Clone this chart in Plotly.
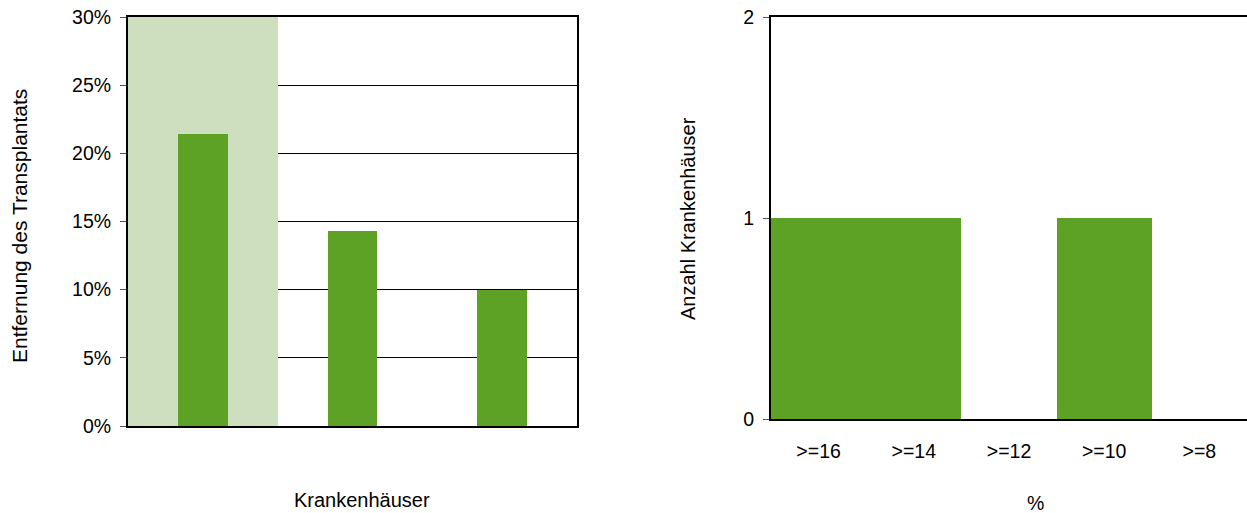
import plotly.graph_objects as go

# Left chart data
hospitals = ["A", "B", "C"]
removal_share = [0.214, 0.143, 0.100]
highlight_category = ["A"]
y_max_left = 0.30

# Right chart data
pct_bins = [">=16", ">=14", ">=12", ">=10", ">=8"]
hospital_counts = [1, 1, 0, 1, 0]

W, H = 1247, 513
GREEN = "#5da225"
BAND = "#cedfbf"
FONT = "Liberation Sans, Arial, sans-serif"
FS = 19.5

fig = go.Figure()
# highlight band behind the first hospital
fig.add_trace(go.Bar(x=highlight_category, y=[y_max_left], marker_color=BAND,
                     marker_line_width=0, xaxis="x", yaxis="y", width=1.0,
                     hoverinfo="skip"))
fig.add_trace(go.Bar(x=hospitals, y=removal_share, marker_color=GREEN,
                     marker_line_width=0, xaxis="x", yaxis="y", width=1/3))
fig.add_trace(go.Bar(x=pct_bins, y=hospital_counts, marker_color=GREEN,
                     marker_line_width=0, xaxis="x2", yaxis="y2", width=1.0))

px = lambda v: v / W
py = lambda v: 1 - v / H

fig.update_layout(
    template="none",
    width=W, height=H, margin=dict(l=0, r=0, t=0, b=0, autoexpand=False),
    paper_bgcolor="white", plot_bgcolor="white", showlegend=False,
    font=dict(family=FONT, size=FS, color="black"),
    barmode="overlay", bargap=0,
    xaxis=dict(domain=[px(128), px(577)], type="category", range=[-0.5, 2.5],
               categoryorder="array", categoryarray=hospitals, automargin=False,
               showticklabels=False, ticks="", showgrid=False,
               showline=True, linecolor="black", linewidth=2, mirror=True,
               zeroline=False),
    yaxis=dict(domain=[py(426), py(17)], range=[0, y_max_left], dtick=0.05,
               tickformat=".0%", ticks="outside", ticklen=6, tickcolor="#555",
               tickwidth=1, ticklabelstandoff=5, automargin=False,
               showgrid=True, gridcolor="black", gridwidth=1,
               showline=True, linecolor="black", linewidth=2, mirror=True,
               zeroline=False),
    xaxis2=dict(domain=[px(771), 1.0], type="category", range=[-0.5, 4.5],
                ticks="", showgrid=False, ticklabelstandoff=14, automargin=False,
                showline=True, linecolor="black", linewidth=2, mirror=True,
                zeroline=False, anchor="y2"),
    yaxis2=dict(domain=[py(419), py(17)], range=[0, 2], dtick=1,
                ticks="outside", ticklen=6, tickcolor="#555", tickwidth=1,
                ticklabelstandoff=5, showgrid=False, automargin=False,
                showline=True, linecolor="black", linewidth=2, mirror=False,
                zeroline=False, anchor="x2"),
)

fig.add_annotation(text="Entfernung des Transplantats", x=px(19), y=py(226),
                   xref="paper", yref="paper", textangle=-90, showarrow=False,
                   font=dict(size=21),
                   xanchor="center", yanchor="middle")
fig.add_annotation(text="Krankenhäuser", x=px(362), y=py(500),
                   xref="paper", yref="paper", showarrow=False,
                   font=dict(size=20),
                   xanchor="center", yanchor="middle")
fig.add_annotation(text="Anzahl Krankenhäuser", x=px(688), y=py(219),
                   xref="paper", yref="paper", textangle=-90, showarrow=False,
                   font=dict(size=20),
                   xanchor="center", yanchor="middle")
fig.add_annotation(text="%", x=px(1035), y=py(503),
                   xref="paper", yref="paper", showarrow=False,
                   xanchor="center", yanchor="middle")

fig.write_html("out.html")
